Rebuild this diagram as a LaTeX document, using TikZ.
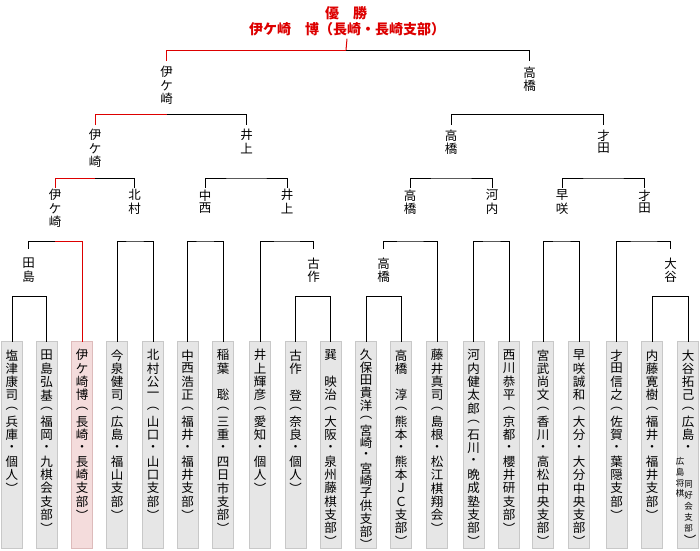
\documentclass[tikz,border=0pt]{standalone}
\usepackage{fontspec}
\setmainfont{Noto Sans CJK JP}
\definecolor{wred}{HTML}{DD0000}
\definecolor{boxfill}{HTML}{E6E6E6}
\definecolor{boxline}{HTML}{C8C8C8}
\definecolor{pinkfill}{HTML}{F4DCDC}
\definecolor{pinkline}{HTML}{DDBBBB}
\newdimen\vcell
\vcell=13.3pt
\newcommand\vch[1]{\hbox to 14pt{\hss\vbox to \vcell{\vfil\hbox{#1}\vfil}\hss}}
\makeatletter
\newcommand\vstack[1]{\vbox{\offinterlineskip\@tfor\vs@c:=#1\do{\vch{\vs@c}}}}
\makeatother
\tikzset{
  pbox/.style={draw=boxline, fill=boxfill, line width=1pt, minimum width=21pt, minimum height=207pt, inner sep=0pt, outer sep=0pt},
  winbox/.style={pbox, draw=pinkline, fill=pinkfill},
  ptxt/.style={anchor=north, inner sep=0pt, outer sep=0pt},
  smalltxt/.style={anchor=north, inner sep=0pt, outer sep=0pt, font=\fontsize{8.5}{10}\selectfont},
  lab/.style={anchor=north, inner xsep=0pt, inner ysep=#1, outer sep=0pt},
  conn/.style={line width=1pt, draw=black},
  winline/.style={line width=1pt, draw=wred},
  ttl/.style={inner sep=0pt, text=wred, font=\fontsize{14}{16}\selectfont\bfseries},
}
\begin{document}
\begin{tikzpicture}[x=1pt, y=-1pt, every node/.append style={font=\fontsize{12.5}{13}\selectfont}]
\fill[white] (0,0) rectangle (700,550);
\useasboundingbox (0,0) rectangle (700,550);

% title
\node[ttl, anchor=base] (title1) at (346,18.8) {優　勝};
\node[ttl, anchor=base, outer ysep=3pt] (title2) at (347,34.3) {伊ケ崎　博（長崎・長崎支部）};

% player boxes
\node[pbox]   (p1)  at (12,445) {};
\node[pbox]   (p2)  at (46.5,445) {};
\node[winbox] (p3)  at (82,445) {};
\node[pbox]   (p4)  at (117,445) {};
\node[pbox]   (p5)  at (153,445) {};
\node[pbox]   (p6)  at (187.5,445) {};
\node[pbox]   (p7)  at (223,445) {};
\node[pbox]   (p8)  at (260,445) {};
\node[pbox]   (p9)  at (295.5,445) {};
\node[pbox]   (p10) at (330.5,445) {};
\node[pbox]   (p11) at (366,445) {};
\node[pbox]   (p12) at (401,445) {};
\node[pbox]   (p13) at (437,445) {};
\node[pbox]   (p14) at (473.5,445) {};
\node[pbox]   (p15) at (509,445) {};
\node[pbox]   (p16) at (543,445) {};
\node[pbox]   (p17) at (579,445) {};
\node[pbox]   (p18) at (616.5,445) {};
\node[pbox]   (p19) at (652,445) {};
\node[pbox]   (p20) at (688,445) {};

% player texts
\node[ptxt] (t1)  at (12,348.6)    {\vstack{塩津康司︵兵庫・個人︶}};
\node[ptxt] (t2)  at (46.5,348.6)  {\vstack{田島弘基︵福岡・九棋会支部︶}};
\node[ptxt] (t3)  at (82,348.6)    {\vstack{伊ケ崎博︵長崎・長崎支部︶}};
\node[ptxt] (t4)  at (117,348.6)   {\vstack{今泉健司︵広島・福山支部︶}};
\node[ptxt] (t5)  at (153,348.6)   {\vstack{北村公一︵山口・山口支部︶}};
\node[ptxt] (t6)  at (187.5,348.6) {\vstack{中西浩正︵福井・福井支部︶}};
\node[ptxt] (t7)  at (223,348.6)   {\vstack{稲葉　聡︵三重・四日市支部︶}};
\node[ptxt] (t8)  at (260,348.6)   {\vstack{井上輝彦︵愛知・個人︶}};
\node[ptxt] (t9)  at (295.5,348.6) {\vstack{古作　登︵奈良・個人︶}};
\node[ptxt] (t10) at (330.5,348.6) {\vstack{巽　映治︵大阪・泉州藤棋支部︶}};
\node[ptxt] (t11) at (366,348.6)   {\vcell=12.6pt\vstack{久保田貴洋︵宮崎・宮崎子供支部︶}};
\node[ptxt] (t12) at (401,348.6)   {\vstack{高橋　淳︵熊本・熊本ＪＣ支部︶}};
\node[ptxt] (t13) at (437,348.6)   {\vstack{藤井真司︵島根・松江棋翔会︶}};
\node[ptxt] (t14) at (473.5,348.6) {\vstack{河内健太郎︵石川・晩成塾支部︶}};
\node[ptxt] (t15) at (509,348.6)   {\vstack{西川恭平︵京都・櫻井研支部︶}};
\node[ptxt] (t16) at (543,348.6)   {\vstack{宮武尚文︵香川・高松中央支部︶}};
\node[ptxt] (t17) at (579,348.6)   {\vstack{早咲誠和︵大分・大分中央支部︶}};
\node[ptxt] (t18) at (616.5,348.6) {\vstack{才田信之︵佐賀・葉隠支部︶}};
\node[ptxt] (t19) at (652,348.6)   {\vstack{内藤寛樹︵福井・福井支部︶}};
\node[ptxt] (t20) at (688,348.6)   {\vstack{大谷拓己︵広島・}};
\node[smalltxt] (t20a) at (680,456.5) {\vcell=10.5pt\vstack{広島将棋}};
\node[smalltxt] (t20b) at (688.5,479) {\vcell=11pt\vstack{同好会支部}};
\node[ptxt] (t20c) at (690,534) {\vstack{︶}};

% winner labels
\node[lab=4.6pt] (d1) at (166.5,61) {\vstack{伊ケ崎}};
\node[lab=4.6pt] (d2) at (529.5,61) {\vstack{高橋}};
\node[lab=3.6pt] (c1) at (95,125) {\vstack{伊ケ崎}};
\node[lab=3.6pt] (c2) at (246.5,125) {\vstack{井上}};
\node[lab=3.6pt] (c3) at (451,125) {\vstack{高橋}};
\node[lab=3.6pt] (c4) at (603.5,125) {\vstack{才田}};
\node[lab=1.1pt] (b1) at (55,187.5) {\vstack{伊ケ崎}};
\node[lab=1.1pt] (b2) at (134.5,187.5) {\vstack{北村}};
\node[lab=1.1pt] (b3) at (205,187.5) {\vstack{中西}};
\node[lab=1.1pt] (b4) at (287,187.5) {\vstack{井上}};
\node[lab=1.1pt] (b5) at (410,187.5) {\vstack{高橋}};
\node[lab=1.1pt] (b6) at (492,187.5) {\vstack{河内}};
\node[lab=1.1pt] (b7) at (562,187.5) {\vstack{早咲}};
\node[lab=1.1pt] (b8) at (644.5,187.5) {\vstack{才田}};
\node[lab=8.1pt] (a1) at (28.5,248.5) {\vstack{田島}};
\node[lab=8.1pt] (a2) at (313.5,248.5) {\vstack{古作}};
\node[lab=8.1pt] (a3) at (383.5,248.5) {\vstack{高橋}};
\node[lab=8.1pt] (a4) at (670.5,248.5) {\vstack{大谷}};

% junctions
\coordinate (ja1) at (28.5,296.5);
\coordinate (ja2) at (313.5,296.5);
\coordinate (ja3) at (383.5,296.5);
\coordinate (ja4) at (670.5,296.5);
\coordinate (jb1) at (55,241);
\coordinate (jb2) at (134.5,241);
\coordinate (jb3) at (205,241);
\coordinate (jb4) at (287,241);
\coordinate (jb5) at (410,241);
\coordinate (jb6) at (492,241);
\coordinate (jb7) at (562,241);
\coordinate (jb8) at (644.5,241);
\coordinate (jc1) at (95,178);
\coordinate (jc2) at (246.5,178);
\coordinate (jc3) at (451,178);
\coordinate (jc4) at (603.5,178);
\coordinate (jd1) at (166.5,114.5);
\coordinate (jd2) at (529.5,114.5);
\coordinate (jf) at (346,50);

% first round
\draw[conn] (p1.north) |- (ja1) -| (p2.north);
\draw[conn] (p9.north) |- (ja2) -| (p10.north);
\draw[conn] (p11.north) |- (ja3) -| (p12.north);
\draw[conn] (p19.north) |- (ja4) -| (p20.north);
% second round
\draw[conn] (a1.north) |- (jb1);
\draw[winline] (jb1) -| (p3.north);
\draw[conn] (p4.north) |- (jb2) -| (p5.north);
\draw[conn] (p6.north) |- (jb3) -| (p7.north);
\draw[conn] (p8.north) |- (jb4) -| (a2.north);
\draw[conn] (a3.north) |- (jb5) -| (p13.north);
\draw[conn] (p14.north) |- (jb6) -| (p15.north);
\draw[conn] (p16.north) |- (jb7) -| (p17.north);
\draw[conn] (p18.north) |- (jb8) -| (a4.north);
% third round
\draw[conn] (jc1) -| (b2.north);
\draw[winline] (b1.north) |- (jc1);
\draw[conn] (b3.north) |- (jc2) -| (b4.north);
\draw[conn] (b5.north) |- (jc3) -| (b6.north);
\draw[conn] (b7.north) |- (jc4) -| (b8.north);
% semifinals
\draw[conn] (jd1) -| (c2.north);
\draw[winline] (c1.north) |- (jd1);
\draw[conn] (c3.north) |- (jd2) -| (c4.north);
% final
\draw[conn] (jf) -| (d2.north);
\draw[winline] (d1.north) |- (jf);
\draw[winline] (jf) -- (title2.south);
\end{tikzpicture}
\end{document}
